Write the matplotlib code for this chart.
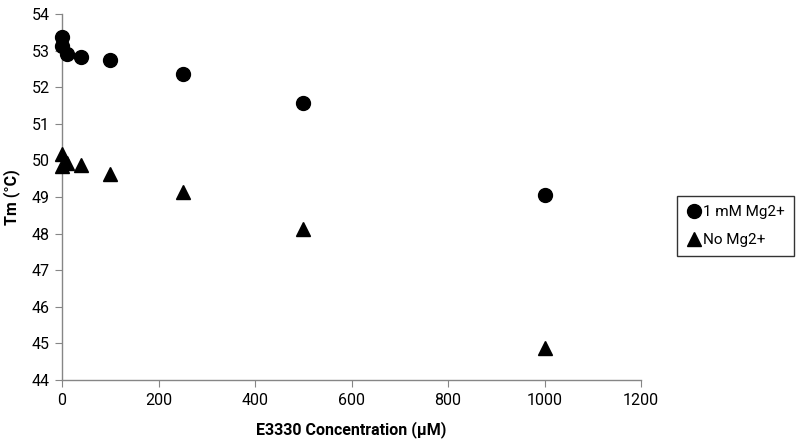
import matplotlib
matplotlib.use("Agg")
import matplotlib.pyplot as plt

# E3330 concentration (uM) and melting temperature (C)
conc = [0, 1, 10, 40, 100, 250, 500, 1000]
tm_mg = [53.38, 53.12, 52.92, 52.82, 52.73, 52.35, 51.57, 49.05]
tm_no_mg = [50.18, 49.85, 49.93, 49.87, 49.63, 49.15, 48.12, 44.87]

plt.rcParams['font.family'] = ['Roboto', 'DejaVu Sans']

fig = plt.figure(figsize=(8, 4.44), dpi=100)
ax = fig.add_axes([62 / 800, 1 - 380 / 444, (641 - 62) / 800, (380 - 14) / 444])

ax.plot(conc, tm_mg, 'o', color='black', markersize=10, linestyle='none',
        label='1 mM Mg2+', clip_on=False, zorder=3)
ax.plot(conc, tm_no_mg, '^', color='black', markersize=10, linestyle='none',
        label='No Mg2+', clip_on=False, zorder=3)

ax.set_xlim(0, 1200)
ax.set_ylim(44, 54)
ax.set_xticks(range(0, 1201, 200))
ax.set_yticks(range(44, 55))

for side in ['top', 'right']:
    ax.spines[side].set_visible(False)
for side in ['left', 'bottom']:
    ax.spines[side].set_color('#868686')
    ax.spines[side].set_linewidth(1)
ax.tick_params(colors='#868686', length=5, labelcolor='black', labelsize=11.5, pad=4)

ax.set_xlabel('E3330 Concentration (μM)', fontsize=11.5, fontweight='bold', labelpad=10)
ax.set_ylabel('Tm (°C)', fontsize=11.5, fontweight='bold', labelpad=8)

leg = ax.legend(loc='center left', bbox_to_anchor=(677 / 800, 1 - 226 / 444),
                bbox_transform=fig.transFigure, frameon=True, fancybox=False,
                fontsize=11, handletextpad=0.1, handlelength=1.0,
                borderpad=0.6, labelspacing=0.9, borderaxespad=0)
leg.get_frame().set_edgecolor('black')
leg.get_frame().set_linewidth(1)

fig.savefig('out.png', dpi=100)
